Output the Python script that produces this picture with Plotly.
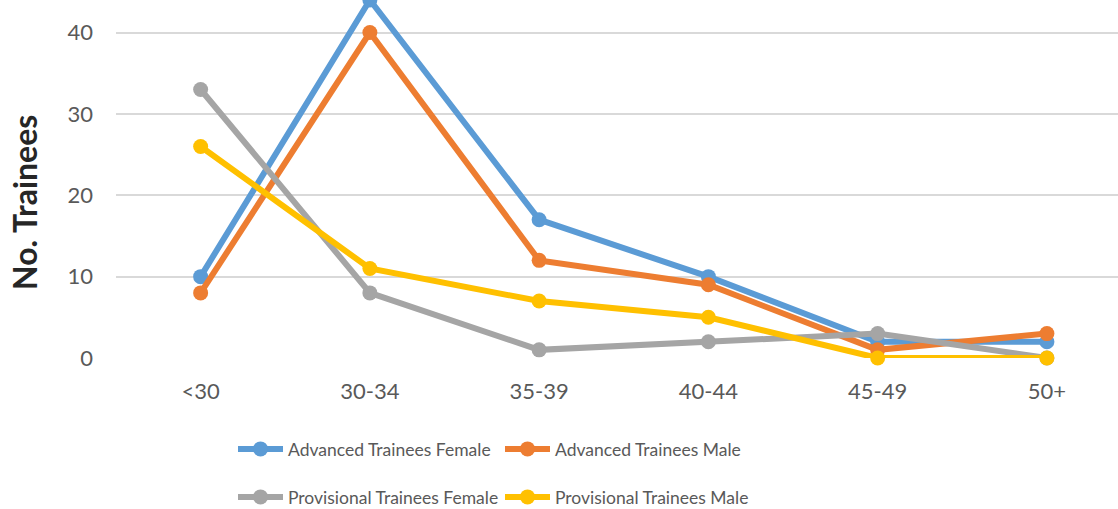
import plotly.graph_objects as go

age_groups = ["<30", "30-34", "35-39", "40-44", "45-49", "50+"]
advanced_female = [10, 44, 17, 10, 2, 2]
advanced_male = [8, 40, 12, 9, 1, 3]
provisional_female = [33, 8, 1, 2, 3, 0]
provisional_male = [26, 11, 7, 5, 0, 0]

series = [
    ("Advanced Trainees Female", advanced_female, "#5B9BD5", "legend"),
    ("Advanced Trainees Male", advanced_male, "#ED7D31", "legend"),
    ("Provisional Trainees Female", provisional_female, "#A5A5A5", "legend2"),
    ("Provisional Trainees Male", provisional_male, "#FFC000", "legend2"),
]

FONT = "Lato, 'Open Sans', sans-serif"
TEXT = "#595959"

fig = go.Figure()
for name, values, color, leg in series:
    fig.add_trace(go.Scatter(
        x=age_groups, y=values, name=name, mode="lines+markers",
        line=dict(color=color, width=6),
        marker=dict(color=color, size=15),
        cliponaxis=False, legend=leg,
    ))

legend_common = dict(
    orientation="h", xref="container", yref="container",
    xanchor="left", yanchor="middle",
    font=dict(family=FONT, size=17.5, color=TEXT),
    itemwidth=45, entrywidth=207, bgcolor="rgba(0,0,0,0)",
)

fig.update_layout(
    width=1118, height=509,
    margin=dict(l=116, r=0, t=0, b=151),
    paper_bgcolor="white", plot_bgcolor="white",
    font=dict(family=FONT, color=TEXT),
    showlegend=True,
    legend=dict(x=233 / 1118, y=1 - 449 / 509, **legend_common),
    legend2=dict(x=233 / 1118, y=1 - 497 / 509, **legend_common),
    xaxis=dict(
        type="category", range=[-0.5, 5.42],
        showgrid=False, zeroline=False, showline=False,
        tickfont=dict(family=FONT, size=22, color=TEXT),
        ticks="", ticklabelstandoff=18,
    ),
    yaxis=dict(
        range=[0, 44], tickvals=[0, 10, 20, 30, 40],
        showgrid=True, gridcolor="#D9D9D9", gridwidth=1.5,
        zeroline=False, showline=False,
        tickfont=dict(family=FONT, size=22, color=TEXT),
        ticks="", ticklabelstandoff=22,
    ),
    annotations=[dict(
        text="<b>No. Trainees</b>", textangle=-90,
        xref="paper", yref="paper", xanchor="center", yanchor="middle",
        x=(25 - 116) / 1002, y=(358 - 203) / 358,
        showarrow=False, font=dict(family=FONT, size=32, color="#262626"),
    )],
)

fig.write_html("out.html")
